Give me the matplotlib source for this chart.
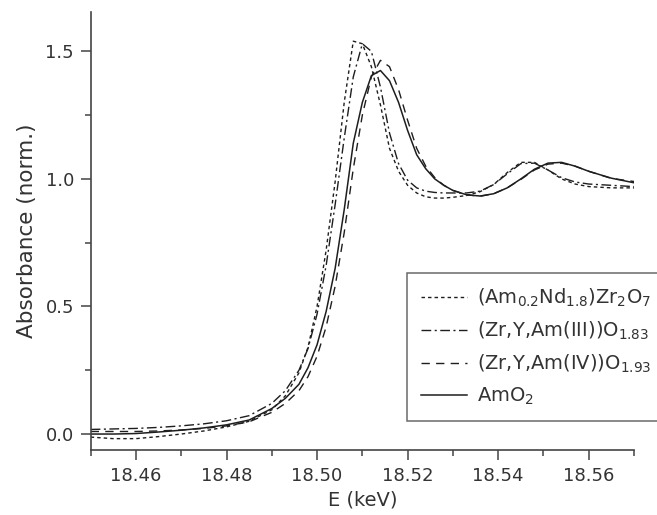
import matplotlib
matplotlib.use('Agg')
import matplotlib.pyplot as plt
from matplotlib.ticker import MultipleLocator

plt.rcParams['font.family'] = ['DejaVu Sans']
plt.rcParams['mathtext.default'] = 'regular'

# Energia (keV) comun para las cuatro curvas
energia = [18.450, 18.455, 18.460, 18.465, 18.470, 18.475, 18.480, 18.485,
           18.490, 18.493, 18.496, 18.498, 18.500, 18.502, 18.504, 18.506,
           18.508, 18.510, 18.512, 18.514, 18.516, 18.518, 18.520, 18.522,
           18.524, 18.526, 18.528, 18.530, 18.533, 18.536, 18.539, 18.542,
           18.545, 18.548, 18.551, 18.554, 18.557, 18.560, 18.565, 18.570]

am_nd = [-0.012, -0.018, -0.018, -0.010, 0.000, 0.012, 0.028, 0.050,
         0.095, 0.150, 0.240, 0.340, 0.500, 0.720, 0.990, 1.300,
         1.540, 1.530, 1.440, 1.290, 1.120, 1.030, 0.975, 0.945,
         0.930, 0.925, 0.925, 0.928, 0.935, 0.950, 0.978, 1.025,
         1.065, 1.065, 1.035, 1.000, 0.980, 0.970, 0.965, 0.965]

am_iii = [0.018, 0.020, 0.022, 0.026, 0.032, 0.040, 0.052, 0.072,
          0.120, 0.170, 0.250, 0.335, 0.470, 0.660, 0.900, 1.160,
          1.400, 1.530, 1.500, 1.360, 1.180, 1.060, 0.995, 0.965,
          0.952, 0.947, 0.945, 0.945, 0.945, 0.952, 0.978, 1.020,
          1.060, 1.062, 1.035, 1.005, 0.988, 0.980, 0.975, 0.970]

am_iv = [0.010, 0.010, 0.010, 0.012, 0.016, 0.022, 0.032, 0.048,
         0.085, 0.120, 0.170, 0.225, 0.305, 0.420, 0.580, 0.790,
         1.040, 1.250, 1.400, 1.465, 1.440, 1.350, 1.230, 1.120,
         1.050, 1.005, 0.975, 0.955, 0.938, 0.932, 0.942, 0.965,
         0.998, 1.035, 1.058, 1.062, 1.050, 1.030, 1.002, 0.990]

amo2 = [0.000, 0.000, 0.002, 0.008, 0.015, 0.024, 0.036, 0.055,
        0.100, 0.140, 0.195, 0.260, 0.350, 0.480, 0.650, 0.880,
        1.140, 1.300, 1.405, 1.425, 1.385, 1.300, 1.190, 1.095,
        1.040, 1.000, 0.975, 0.955, 0.938, 0.933, 0.942, 0.965,
        1.000, 1.038, 1.062, 1.065, 1.050, 1.030, 1.003, 0.985]

etiquetas = [r'(Am$_{0.2}$Nd$_{1.8}$)Zr$_2$O$_7$',
             r'(Zr,Y,Am(III))O$_{1.83}$',
             r'(Zr,Y,Am(IV))O$_{1.93}$',
             r'AmO$_2$']

color = '#1e1e1e'
gris = '#444444'

fig = plt.figure(figsize=(6.57, 5.15), dpi=100)
ax = fig.add_axes([0.138, 0.126, 0.827, 0.851])

ax.plot(energia, am_nd, color=color, lw=1.0, ls=(0, (2.5, 2.2)), label=etiquetas[0])
ax.plot(energia, am_iii, color=color, lw=1.0, ls=(0, (7, 2.5, 1.5, 2.5)), label=etiquetas[1])
ax.plot(energia, am_iv, color=color, lw=1.0, ls=(0, (6, 4.5)), label=etiquetas[2])
ax.plot(energia, amo2, color=color, lw=1.1, ls='-', label=etiquetas[3])

ax.set_xlim(18.45, 18.57)
ax.set_ylim(-0.063, 1.655)
ax.xaxis.set_major_locator(MultipleLocator(0.02))
ax.xaxis.set_minor_locator(MultipleLocator(0.01))
ax.yaxis.set_major_locator(MultipleLocator(0.5))
ax.yaxis.set_minor_locator(MultipleLocator(0.25))
ax.xaxis.set_major_formatter(plt.FuncFormatter(lambda v, p: '%.2f' % v))
ax.yaxis.set_major_formatter(plt.FuncFormatter(lambda v, p: '%.1f' % v))

for lado in ['top', 'right']:
    ax.spines[lado].set_visible(False)
for lado in ['left', 'bottom']:
    ax.spines[lado].set_color(gris)
    ax.spines[lado].set_linewidth(1.2)

ax.tick_params(which='major', direction='out', length=7, width=1.1, color=gris,
               labelsize=13, labelcolor='#333333', pad=5)
ax.tick_params(which='minor', direction='out', length=4, width=1.1, color=gris)

ax.set_xlabel('E (keV)', fontsize=14, color='#333333', labelpad=4)
ax.set_ylabel('Absorbance (norm.)', fontsize=15.5, color='#333333', labelpad=6)

leg = ax.legend(loc='upper left', bbox_to_anchor=(407 / 657, 1 - 273 / 515),
                bbox_transform=fig.transFigure, fontsize=14, frameon=True,
                fancybox=False, edgecolor=gris, handlelength=2.4,
                handletextpad=0.5, labelspacing=0.55, borderpad=0.7,
                borderaxespad=0)
leg.get_frame().set_linewidth(1.1)
for t in leg.get_texts():
    t.set_color('#333333')

fig.savefig('out.png', dpi=100)
